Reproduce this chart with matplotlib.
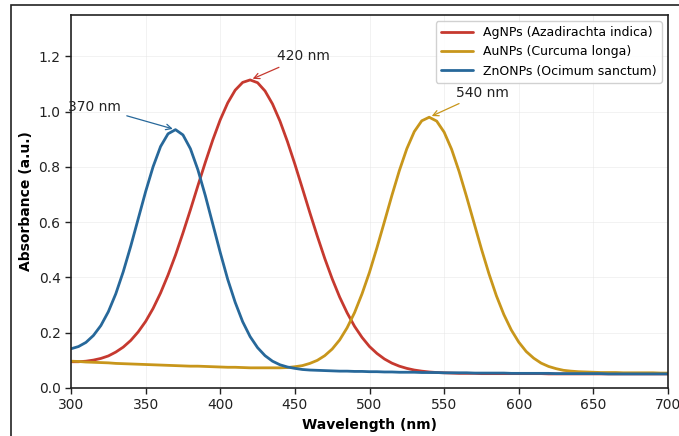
import numpy as np
import matplotlib
matplotlib.use("Agg")
import matplotlib.pyplot as plt
from matplotlib.patches import Rectangle

# wavelength grid (nm), 5 nm steps
wavelength = np.arange(300, 705, 5)

# AgNPs (Azadirachta indica) absorbance
ag_abs = [0.095, 0.095, 0.097, 0.101, 0.107, 0.116, 0.130, 0.148, 0.172, 0.203,
          0.241, 0.288, 0.344, 0.409, 0.481, 0.561, 0.645, 0.732, 0.817, 0.898,
          0.971, 1.032, 1.078, 1.106, 1.115, 1.105, 1.075, 1.028, 0.966, 0.892,
          0.810, 0.723, 0.635, 0.550, 0.469, 0.395, 0.329, 0.272, 0.223, 0.183,
          0.150, 0.125, 0.105, 0.090, 0.079, 0.071, 0.065, 0.061, 0.058, 0.056,
          0.055, 0.054, 0.053, 0.053, 0.053, 0.052, 0.052, 0.052, 0.052, 0.052,
          0.052, 0.052, 0.052, 0.052, 0.051, 0.051, 0.051, 0.051, 0.051, 0.051,
          0.051, 0.051, 0.051, 0.051, 0.051, 0.051, 0.051, 0.051, 0.051, 0.051,
          0.051]

# AuNPs (Curcuma longa)
au_abs = [0.097, 0.096, 0.094, 0.093, 0.092, 0.091, 0.089, 0.088, 0.087, 0.086,
          0.085, 0.084, 0.083, 0.082, 0.081, 0.080, 0.079, 0.079, 0.078, 0.077,
          0.076, 0.075, 0.075, 0.074, 0.073, 0.073, 0.073, 0.073, 0.073, 0.074,
          0.077, 0.081, 0.089, 0.100, 0.117, 0.141, 0.174, 0.218, 0.273, 0.341,
          0.419, 0.508, 0.602, 0.697, 0.787, 0.866, 0.928, 0.967, 0.980, 0.966,
          0.926, 0.864, 0.784, 0.693, 0.598, 0.503, 0.414, 0.334, 0.266, 0.210,
          0.166, 0.132, 0.108, 0.090, 0.078, 0.070, 0.064, 0.061, 0.059, 0.058,
          0.057, 0.056, 0.056, 0.056, 0.055, 0.055, 0.055, 0.055, 0.055, 0.054,
          0.054]

# ZnONPs (Ocimum sanctum)
zno_abs = [0.142, 0.150, 0.165, 0.190, 0.226, 0.276, 0.341, 0.421, 0.513, 0.612,
           0.711, 0.801, 0.874, 0.920, 0.935, 0.916, 0.866, 0.790, 0.696, 0.593,
           0.490, 0.393, 0.310, 0.240, 0.186, 0.146, 0.117, 0.097, 0.084, 0.076,
           0.071, 0.067, 0.065, 0.064, 0.063, 0.062, 0.061, 0.061, 0.060, 0.060,
           0.059, 0.059, 0.058, 0.058, 0.057, 0.057, 0.057, 0.056, 0.056, 0.056,
           0.055, 0.055, 0.055, 0.055, 0.054, 0.054, 0.054, 0.054, 0.054, 0.053,
           0.053, 0.053, 0.053, 0.053, 0.053, 0.052, 0.052, 0.052, 0.052, 0.052,
           0.052, 0.052, 0.051, 0.051, 0.051, 0.051, 0.051, 0.051, 0.051, 0.051,
           0.051]

labels = ["AgNPs (Azadirachta indica)", "AuNPs (Curcuma longa)", "ZnONPs (Ocimum sanctum)"]
colors = ["#c6392f", "#c8961b", "#27689a"]
peaks = [420, 540, 370]
text_offsets = [(36, 0.085), (36, 0.089), (-54, 0.083)]

fig = plt.figure(figsize=(6.79, 4.36), dpi=100)
ax = fig.add_axes([0.1046, 0.1101, 0.8792, 0.8555])

series = [ag_abs, au_abs, zno_abs]
for vals, lab, col in zip(series, labels, colors):
    ax.plot(wavelength, vals, color=col, lw=2.0, label=lab,
            solid_joinstyle="round", solid_capstyle="round")

# peak annotations
for vals, col, pk, (dx, dy) in zip(series, colors, peaks, text_offsets):
    i = list(wavelength).index(pk)
    ax.annotate(f"{pk} nm", xy=(pk, vals[i]), xytext=(pk + dx, vals[i] + dy),
                ha="center", va="center", fontsize=10, color="#222222",
                arrowprops=dict(arrowstyle="->", color=col, lw=0.9))

ax.set_xlim(300, 700)
ax.set_ylim(0, 1.35)
ax.set_xticks(range(300, 701, 50))
ax.set_yticks(np.arange(0, 1.21, 0.2))
ax.tick_params(labelsize=10, colors="#222222", width=1.0, length=4)
ax.grid(True, color="#e6e6e6", lw=0.6, alpha=0.6)
for sp in ax.spines.values():
    sp.set_color("#222222")
    sp.set_linewidth(1.2)

ax.set_xlabel("Wavelength (nm)", fontsize=10, fontweight="bold")
ax.set_ylabel("Absorbance (a.u.)", fontsize=10, fontweight="bold")
ax.legend(loc="upper right", fontsize=9, frameon=True, framealpha=0.9,
          edgecolor="#cccccc", handlelength=2.6)

# border of the original figure (partially cropped)
fig.patches.append(Rectangle((11 / 679, -0.2), 1.2, 1.2 - 5 / 436,
                             transform=fig.transFigure, fill=False,
                             edgecolor="#222222", lw=1.2, clip_on=False))

fig.savefig("out.png", dpi=100)
